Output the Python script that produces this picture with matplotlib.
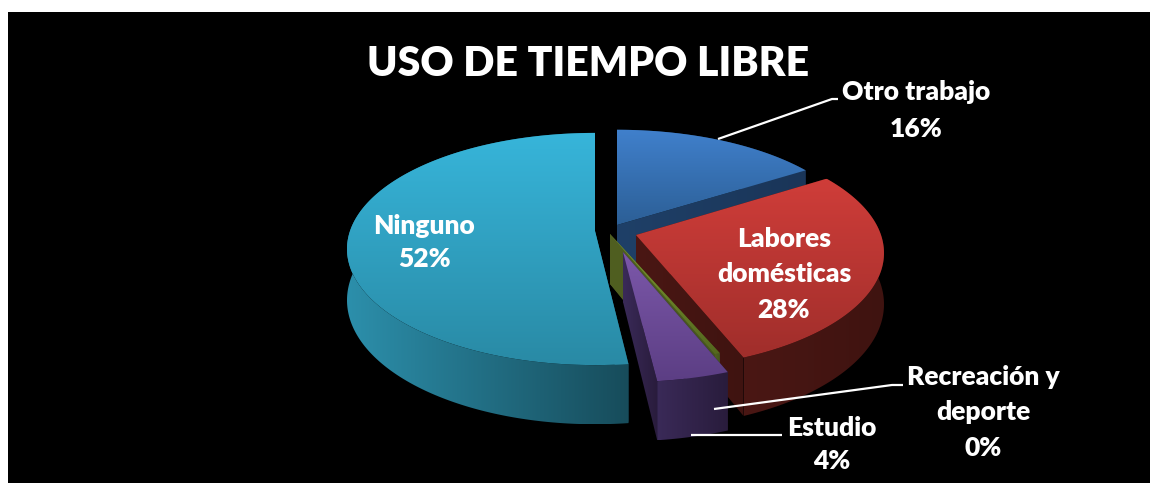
import numpy as np
import matplotlib
matplotlib.use('Agg')
import matplotlib.pyplot as plt
from matplotlib.colors import to_rgb
from matplotlib.patches import Polygon, Rectangle

# data
categories = ['Otro trabajo', 'Labores\ndomésticas', 'Recreación y\ndeporte', 'Estudio', 'Ninguno']
values = [16, 28, 0.3, 4, 52]

# apex of each exploded slice, in pixels
centers = [(617, 225), (636, 235), (610, 234), (623, 252), (595, 231)]
x_scale = [0.97, 0.98, 1, 1, 0.98]
y_scale = [1, 1.03, 1, 1, 1.03]
top_colors = [('#4080cc', '#2c5f96'), ('#cf3d39', '#a02e2b'), ('#7d9a30', '#55681f'),
              ('#7c58aa', '#5c3e84'), ('#37b5da', '#298aa5')]
side_colors = [('#1f4068', '#1a3558'), ('#4a1714', '#3f1310'), ('#505f20', '#465420'),
               ('#3a2a58', '#291c3c'), ('#2c8fab', '#174c5b')]
label_pos = [[(916, 92), (916, 129)],
             [(784, 239), (784, 274), (784, 310)],
             [(983, 377), (983, 412), (983, 448)],
             [(832, 428), (832, 461)],
             [(424, 226), (424, 259)]]
leaders = {0: [(718, 139), (832, 99), (838, 99)],
           2: [(714, 409), (892, 385), (903, 385)],
           3: [(691, 435), (782, 435)]}

R = 250
A = 110
P = 0.155
H = 50
draw_order = [4, 0, 1, 2, 3]


def project(theta, sx, sy, c):
    X = np.sin(theta)
    Y = np.cos(theta)
    w = 1 + P * Y
    return c[0] + sx * R * X / w, c[1] - sy * A * Y / w, H / w


def gradient(ax, pts, c1, c2, vertical, z):
    pts = np.array(pts)
    x0, y0 = pts.min(axis=0)
    x1, y1 = pts.max(axis=0)
    t = np.linspace(0, 1, 128)[:, None]
    img = (1 - t) * np.array(to_rgb(c1)) + t * np.array(to_rgb(c2))
    img = img[:, None, :] if vertical else img[None, :, :]
    im = ax.imshow(img, extent=(x0, x1, y1, y0), aspect='auto', zorder=z, interpolation='bilinear')
    clip = Polygon(pts, closed=True, transform=ax.transData, fc='none', ec='none')
    ax.add_patch(clip)
    im.set_clip_path(clip)


fig = plt.figure(figsize=(11.5, 4.83), dpi=100, facecolor='white')
ax = fig.add_axes([0, 0, 1, 1])
ax.add_patch(Rectangle((8, 12), 1142, 471, fc='black', ec='none', zorder=0))

ends = np.cumsum(values) / np.sum(values) * 2 * np.pi
starts = np.concatenate(([0], ends[:-1]))

z = 1
for i in draw_order:
    c = centers[i]
    th = np.linspace(starts[i], ends[i], 200)
    x, y, h = project(th, x_scale[i], y_scale[i], c)
    side1, side2 = side_colors[i]
    # two cut faces
    for k in (0, -1):
        face = [(c[0], c[1]), (x[k], y[k]), (x[k], y[k] + h[k]), (c[0], c[1] + H)]
        gradient(ax, face, side1, side2, False, z)
        z += 1
    # outer wall
    wall = list(zip(x, y)) + list(zip(x[::-1], (y + h)[::-1]))
    gradient(ax, wall, side1, side2, False, z)
    z += 1
    # top
    top = [c] + list(zip(x, y))
    gradient(ax, top, top_colors[i][0], top_colors[i][1], True, z)
    z += 1

for i in leaders:
    lx, ly = zip(*leaders[i])
    ax.plot(lx, ly, color='white', lw=1.6, zorder=z, solid_capstyle='butt')

ax.text(588, 64, 'USO DE TIEMPO LIBRE', color='white', family='Lato', weight='heavy',
        fontsize=29.5, ha='center', va='center', zorder=z + 1)
for i, name in enumerate(categories):
    lines = name.split('\n') + ['%.0f%%' % values[i]]
    for line, pos in zip(lines, label_pos[i]):
        ax.text(pos[0], pos[1], line, color='white', family='Lato', weight='heavy',
                fontsize=19, ha='center', va='center', zorder=z + 1)

ax.set_xlim(0, 1150)
ax.set_ylim(483, 0)
ax.axis('off')
fig.savefig('out.png', dpi=100, facecolor='white')
